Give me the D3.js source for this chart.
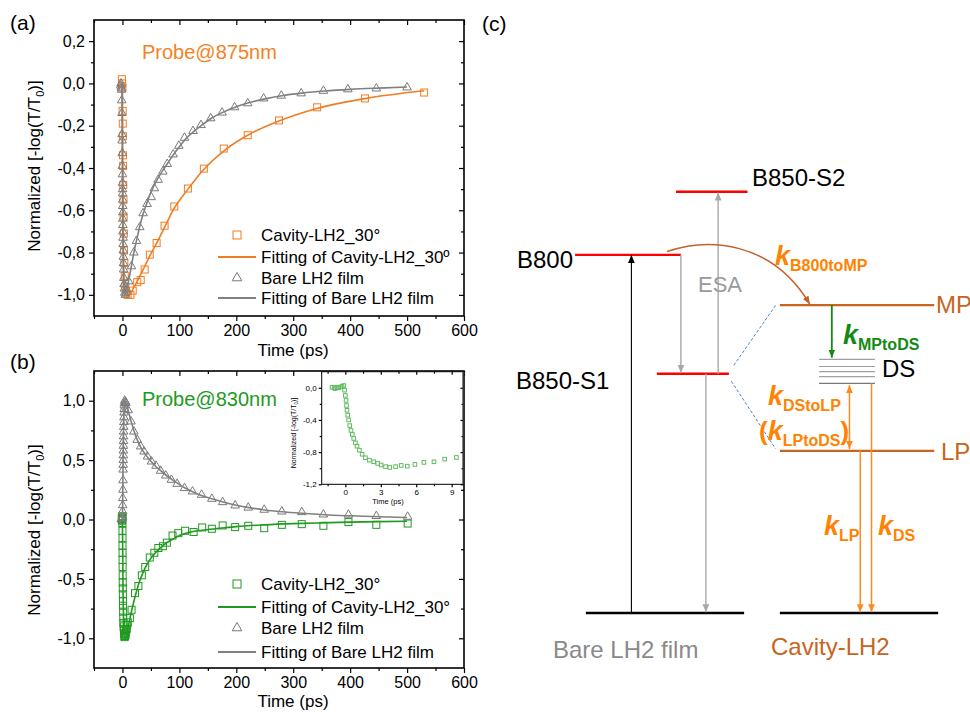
<!DOCTYPE html>
<html>
<head>
<meta charset="utf-8">
<script src="https://cdn.jsdelivr.net/npm/d3@7"></script>
<style>
  body { margin: 0; background: #fff; }
  svg { font-family: "Liberation Sans", Arial, Helvetica, sans-serif; }
</style>
</head>
<body>
<svg id="fig" width="970" height="712"></svg>
<script>
// ---------- data: [time (ps), normalized -log(T/T0)] ----------

// (a) probe @ 875 nm
const cavA = [
  [-1, 0.02], [-0.5, 0.0], [0, -0.02], [0.3, -0.13], [0.5, -0.19], [0.7, -0.25], [0.9, -0.34],
  [1.1, -0.39], [1.4, -0.48], [1.7, -0.55], [2, -0.63], [2.4, -0.71], [2.8, -0.79], [3.3, -0.85],
  [4, -0.91], [5, -0.96], [6, -0.99], [9, -1.0], [14, -1.0], [18, -0.98],
  [26, -0.94], [32, -0.93], [39, -0.88], [48, -0.81], [60, -0.755], [74, -0.673], [91, -0.582],
  [115, -0.497], [143, -0.403], [178, -0.308], [220, -0.245], [275, -0.175], [342, -0.113],
  [426, -0.071], [530, -0.043]
];
const cavAFit = [
  [-1, 0.0], [0, -0.01], [0.5, -0.3], [1.5, -0.7], [3, -0.93], [6, -1.0], [12, -1.0], [20, -0.965],
  [30, -0.915], [40, -0.86], [50, -0.805], [60, -0.755], [75, -0.675], [90, -0.595], [115, -0.5],
  [140, -0.415], [180, -0.315], [220, -0.245], [275, -0.178], [340, -0.12], [425, -0.072], [530, -0.035]
];
const bareA = [
  [-3, -0.01], [-2.5, 0.0], [-2, -0.02], [-1.5, -0.03], [-1.2, -0.08], [-1, -0.14], [-0.8, -0.24],
  [-0.6, -0.27], [-0.4, -0.33], [-0.2, -0.39], [0, -0.43], [0.1, -0.47], [0.2, -0.5], [0.3, -0.52],
  [0.4, -0.55], [0.5, -0.58], [0.6, -0.61], [0.7, -0.64], [0.8, -0.67], [0.9, -0.7], [1.0, -0.73],
  [1.2, -0.76], [1.4, -0.79], [1.6, -0.82], [1.8, -0.85], [2.0, -0.88], [2.4, -0.92], [2.8, -0.95],
  [3.3, -0.97], [4, -0.99], [5, -1.0],
  [7.6, -0.975], [11, -0.936], [15.8, -0.865], [20, -0.8], [24.6, -0.745], [30.4, -0.68],
  [36.3, -0.614], [43.3, -0.57], [50.4, -0.538], [56, -0.496], [62.7, -0.456], [70.9, -0.417],
  [78.6, -0.381], [89, -0.336], [99, -0.295], [109, -0.257], [124, -0.225], [138, -0.197],
  [155, -0.165], [175, -0.138], [197, -0.113], [220, -0.094], [248, -0.071], [279, -0.058],
  [314, -0.047], [353, -0.035], [396, -0.028], [446, -0.024], [500, -0.019]
];
const bareAFit = [
  [-1, 0.0], [0, -0.5], [1, -0.8], [2, -0.95], [4, -1.0], [7, -0.98], [11, -0.93], [16, -0.86],
  [20, -0.8], [25, -0.74], [30, -0.68], [36, -0.62], [43, -0.565], [50, -0.515], [60, -0.46],
  [70, -0.415], [80, -0.375], [90, -0.335], [100, -0.3], [110, -0.265], [125, -0.228], [140, -0.196],
  [155, -0.167], [175, -0.138], [200, -0.11], [220, -0.093], [250, -0.073], [280, -0.058],
  [315, -0.046], [355, -0.036], [400, -0.028], [450, -0.022], [500, -0.017]
];

// (b) probe @ 830 nm; early part also shown in the inset
const cavBEarly = [
  [-1.13, 0.007], [-0.95, 0.0], [-0.85, -0.01], [-0.7, 0.005], [-0.57, 0.0], [-0.4, 0.01],
  [-0.28, 0.016], [-0.14, 0.028], [-0.06, -0.03], [0, -0.095], [0.06, -0.157], [0.1, -0.22],
  [0.14, -0.28], [0.2, -0.34], [0.28, -0.4], [0.37, -0.47], [0.48, -0.53], [0.59, -0.58],
  [0.71, -0.63], [0.85, -0.685], [0.99, -0.726], [1.19, -0.776], [1.42, -0.826], [1.7, -0.87],
  [2.04, -0.9], [2.4, -0.92], [2.74, -0.94], [3.03, -0.96], [3.4, -0.98], [3.76, -0.99],
  [4.25, -0.98], [4.73, -0.965], [5.24, -0.974], [5.89, -0.953], [6.65, -0.928], [7.5, -0.92],
  [8.41, -0.887], [9.4, -0.866]
];
const cavBLate = [
  [13, -0.83], [16, -0.76], [22, -0.62], [28, -0.56], [34, -0.47], [40, -0.4], [48, -0.32],
  [56, -0.28], [63, -0.24], [71, -0.225], [78, -0.195], [88, -0.135], [98, -0.115], [110, -0.095],
  [125, -0.105], [140, -0.067], [157, -0.078], [176, -0.05], [198, -0.064], [221, -0.053],
  [249, -0.073], [280, -0.045], [315, -0.039], [353, -0.053], [397, -0.022], [446, -0.045], [501, -0.034]
];
const cavB = cavBEarly.concat(cavBLate);
const cavBFit = [
  [-1, 0.0], [0, -0.05], [1, -0.6], [2, -0.88], [3.5, -0.99], [5, -1.0], [8, -0.95], [12, -0.86],
  [16, -0.77], [20, -0.69], [25, -0.6], [30, -0.52], [35, -0.46], [40, -0.405], [48, -0.34],
  [56, -0.29], [65, -0.245], [75, -0.205], [85, -0.175], [100, -0.135], [120, -0.105], [140, -0.09],
  [170, -0.075], [200, -0.06], [250, -0.045], [300, -0.035], [350, -0.028], [400, -0.022],
  [450, -0.018], [500, -0.015]
];
const bareB = [
  [-2, 0.0], [-1, 0.01], [0, 0.02], [0.2, 0.07], [0.4, 0.12], [0.6, 0.18], [0.8, 0.25], [1.0, 0.33],
  [1.2, 0.42], [1.3, 0.46], [1.4, 0.5], [1.5, 0.54], [1.6, 0.58], [1.7, 0.62], [1.8, 0.66],
  [1.9, 0.7], [2.0, 0.74], [2.2, 0.78], [2.4, 0.82], [2.6, 0.86], [2.8, 0.9], [3.0, 0.93],
  [3.3, 0.96], [3.6, 0.98], [4, 1.0], [5, 0.99],
  [6, 0.98], [10, 0.92], [15, 0.825], [20, 0.74], [26, 0.67], [32, 0.615], [38, 0.572], [44, 0.53],
  [51, 0.488], [59, 0.452], [67, 0.41], [76, 0.37], [86, 0.334], [96, 0.3], [109, 0.264],
  [123, 0.236], [139, 0.208], [157, 0.174], [176, 0.146], [198, 0.118], [221, 0.1], [249, 0.082],
  [280, 0.067], [315, 0.062], [353, 0.042], [397, 0.04], [446, 0.029], [501, 0.023]
];
const bareBFit = [
  [-1, 0.0], [0, 0.02], [1, 0.45], [2, 0.8], [3, 0.95], [4.5, 1.0], [7, 0.97], [10, 0.92], [15, 0.83],
  [20, 0.75], [26, 0.67], [32, 0.61], [40, 0.55], [50, 0.49], [60, 0.44], [70, 0.4], [80, 0.36],
  [95, 0.31], [110, 0.265], [125, 0.23], [140, 0.2], [160, 0.17], [180, 0.143], [200, 0.12],
  [225, 0.098], [250, 0.08], [280, 0.065], [315, 0.052], [355, 0.04], [400, 0.031], [450, 0.023],
  [500, 0.017]
];

// ticks
const xTicks = [0, 100, 200, 300, 400, 500, 600];
const xMinor = [-50, 50, 150, 250, 350, 450, 550];
const yTicksA = [0.2, 0, -0.2, -0.4, -0.6, -0.8, -1.0];
const yMinorA = [0.1, -0.1, -0.3, -0.5, -0.7, -0.9];
const yTicksB = [1, 0.5, 0, -0.5, -1];
const yMinorB = [0.75, 0.25, -0.25, -0.75];
const xTicksIn = [0, 3, 6, 9];
const xMinorIn = [-1.5, 1.5, 4.5, 7.5];
const yTicksIn = [0, -0.4, -0.8, -1.2];
const yMinorIn = [-0.2, -0.6, -1.0];

// (c) energy diagram: relative energies (ground = 0, B850-S2 = 1)
const bareLevels = ['B850-S2', 'B800', 'B850-S1'];
const bareEnergy = [1.0, 0.85, 0.568];
const cavityLevels = ['MP', 'LP'];
const cavityEnergy = [0.731, 0.385];
const dsEnergy = [0.602, 0.585, 0.573, 0.561, 0.545];

// ---------- drawing ----------
const svg = d3.select('#fig');
const loc = d3.formatLocale({decimal: ',', thousands: '.', grouping: [3], currency: ['', ''], minus: '-'});
const fmt1 = loc.format('.1f');
const FONT = '"Liberation Sans", Arial, Helvetica, sans-serif';

const cOrange = '#f37b21';
const cGreen = '#1f9a1f';
const cGrey = '#7a7a7a';

function addAxis(g, gen, scale, tr, vals, size, fmt, fs, pad) {
  const a = gen(scale).tickValues(vals).tickSizeInner(size).tickSizeOuter(0).tickPadding(pad || 4)
    .tickFormat(fmt || (() => ''));
  const s = g.append('g').attr('transform', tr).call(a);
  s.attr('font-family', null).attr('font-size', fs || 16);
  s.select('.domain').remove();
  s.selectAll('line').attr('stroke', '#000').attr('stroke-width', 1.2);
  s.selectAll('text').attr('fill', '#000');
  return s;
}

function frameAxes(g, x, y, o) {
  const L = o.left, R = o.right, T = o.top, B = o.bottom;
  const fs = o.fs, big = o.big, small = o.small;
  addAxis(g, d3.axisBottom, x, `translate(0,${B})`, o.xt, big, o.xf, fs, o.pad);
  addAxis(g, d3.axisBottom, x, `translate(0,${B})`, o.xm, small);
  addAxis(g, d3.axisTop, x, `translate(0,${T})`, o.xt, -big);
  addAxis(g, d3.axisTop, x, `translate(0,${T})`, o.xm, -small);
  addAxis(g, d3.axisLeft, y, `translate(${L},0)`, o.yt, big, fmt1, fs, o.pad);
  addAxis(g, d3.axisLeft, y, `translate(${L},0)`, o.ym, small);
  addAxis(g, d3.axisRight, y, `translate(${R},0)`, o.yt, -big);
  addAxis(g, d3.axisRight, y, `translate(${R},0)`, o.ym, -small);
  g.append('rect').attr('x', L).attr('y', T).attr('width', R - L).attr('height', B - T)
    .attr('fill', 'none').attr('stroke', '#000').attr('stroke-width', o.frame);
}

function yLabel(g, cx, cy, fs) {
  const t = g.append('text').attr('transform', `translate(${cx},${cy}) rotate(-90)`)
    .attr('text-anchor', 'middle').attr('font-size', fs).attr('fill', '#000');
  t.append('tspan').text('Normalized [-log(T/T');
  t.append('tspan').attr('font-size', fs * 0.65).attr('dy', fs * 0.25).text('0');
  t.append('tspan').attr('dy', -fs * 0.25).text(')]');
}

function squares(g, data, x, y, s, color) {
  g.append('g').selectAll('rect').data(data).join('rect')
    .attr('x', d => x(d[0]) - s / 2).attr('y', d => y(d[1]) - s / 2)
    .attr('width', s).attr('height', s)
    .attr('fill', 'none').attr('stroke', color).attr('stroke-width', 1);
}
function triangles(g, data, x, y, color) {
  const sym = d3.symbol().type(d3.symbolTriangle).size(32);
  g.append('g').selectAll('path').data(data).join('path')
    .attr('d', sym).attr('transform', d => `translate(${x(d[0])},${y(d[1])})`)
    .attr('fill', 'none').attr('stroke', color).attr('stroke-width', 1);
}
function fitLine(g, data, x, y, color) {
  const line = d3.line().x(d => x(d[0])).y(d => y(d[1])).curve(d3.curveMonotoneX);
  g.append('path').datum(data).attr('d', line)
    .attr('fill', 'none').attr('stroke', color).attr('stroke-width', 1.6);
}

function legend(g, x0, rows, items) {
  const sym = d3.symbol().type(d3.symbolTriangle).size(40);
  items.forEach((it, i) => {
    const cy = rows[i];
    if (it.kind === 'sq') {
      g.append('rect').attr('x', x0 + 19 - 4).attr('y', cy - 4).attr('width', 8).attr('height', 8)
        .attr('fill', 'none').attr('stroke', it.color);
    } else if (it.kind === 'tri') {
      g.append('path').attr('d', sym).attr('transform', `translate(${x0 + 19},${cy})`)
        .attr('fill', 'none').attr('stroke', it.color);
    } else {
      g.append('line').attr('x1', x0).attr('x2', x0 + 38).attr('y1', cy).attr('y2', cy)
        .attr('stroke', it.color).attr('stroke-width', 1.8);
    }
    g.append('text').attr('x', x0 + 43).attr('y', cy + 6).attr('font-size', 17)
      .attr('fill', '#000').text(it.label);
  });
}

function panel(o) {
  const g = svg.append('g');
  const x = d3.scaleLinear().domain(o.xd).range([o.left, o.right]);
  const y = d3.scaleLinear().domain(o.yd).range([o.bottom, o.top]);
  frameAxes(g, x, y, {left: o.left, right: o.right, top: o.top, bottom: o.bottom,
    xt: xTicks, xm: xMinor, yt: o.yt, ym: o.ym, xf: d => d, fs: 16, big: 5, small: 3, pad: 4, frame: 1.6});
  const d = g.append('g');
  squares(d, o.cav, x, y, 7, o.cavColor);
  fitLine(d, o.cavFit, x, y, o.cavColor);
  triangles(d, o.bare, x, y, cGrey);
  fitLine(d, o.bareFit, x, y, '#808080');
  yLabel(g, 40, o.ylabY, 17);
  g.append('text').attr('x', 293).attr('y', o.xlabY).attr('text-anchor', 'middle')
    .attr('font-size', 17).attr('fill', '#000').text('Time (ps)');
  g.append('text').attr('x', 142).attr('y', o.probeY).attr('font-size', 20)
    .attr('fill', o.probeColor).text(o.probe);
  g.append('text').attr('x', 10).attr('y', o.tagY).attr('font-size', 21).attr('fill', '#000').text(o.tag);
  legend(g, 218, o.rows, [
    {kind: 'sq', color: o.cavColor, label: 'Cavity-LH2_30°'},
    {kind: 'line', color: o.cavColor, label: o.fitLabel},
    {kind: 'tri', color: cGrey, label: 'Bare LH2 film'},
    {kind: 'line', color: '#808080', label: 'Fitting of Bare LH2 film'}
  ]);
  return g;
}

panel({
  xd: [-50, 600], yd: [-1.1, 0.3], left: 94, right: 464, top: 20, bottom: 316,
  yt: yTicksA, ym: yMinorA, cav: cavA, cavFit: cavAFit, bare: bareA, bareFit: bareAFit,
  cavColor: cOrange, probeColor: '#f5821f', probe: 'Probe@875nm', probeY: 59, tag: '(a)', tagY: 30,
  ylabY: 166, xlabY: 356, rows: [235, 257, 278, 298], fitLabel: 'Fitting of Cavity-LH2_30º'
});

panel({
  xd: [-50, 600], yd: [-1.25, 1.25], left: 94, right: 464, top: 371, bottom: 668,
  yt: yTicksB, ym: yMinorB, cav: cavB, cavFit: cavBFit, bare: bareB, bareFit: bareBFit,
  cavColor: cGreen, probeColor: '#1e9a1e', probe: 'Probe@830nm', probeY: 406, tag: '(b)', tagY: 369,
  ylabY: 530, xlabY: 707, rows: [584, 607, 628, 652], fitLabel: 'Fitting of Cavity-LH2_30°'
});

// inset of (b)
(function inset() {
  const L = 321.7, R = 463.5, T = 371.7, B = 484.3;
  const g = svg.append('g');
  g.append('rect').attr('x', L).attr('y', T).attr('width', R - L).attr('height', B - T).attr('fill', '#fff');
  const x = d3.scaleLinear().domain([-2, 10]).range([L, R]);
  const y = d3.scaleLinear().domain([-1.2, 0.2]).range([B, T]);
  frameAxes(g, x, y, {left: L, right: R, top: T, bottom: B,
    xt: xTicksIn, xm: xMinorIn, yt: yTicksIn, ym: yMinorIn, xf: d => d, fs: 8, big: 3, small: 2, pad: 2, frame: 1});
  g.append('line').attr('x1', R).attr('x2', R).attr('y1', T).attr('y2', B)
    .attr('stroke', '#333').attr('stroke-width', 2.2);
  squares(g, cavBEarly, x, y, 3.6, '#62bb62');
  yLabel(g, 296, 433, 7);
  g.append('text').attr('x', 388).attr('y', 504).attr('text-anchor', 'middle')
    .attr('font-size', 7.5).attr('fill', '#000').text('Time (ps)');
})();

// ---------- (c) energy diagram ----------
(function diagram() {
  const g = svg.append('g');
  const ex = d3.scaleLinear().domain([0, 100]).range([480, 970]);
  const ey = d3.scaleLinear().domain([0, 1]).range([613, 191.7]);
  const defs = svg.append('defs');
  function marker(id, color) {
    defs.append('marker').attr('id', id).attr('viewBox', '0 0 10 10').attr('refX', 10).attr('refY', 5)
      .attr('markerWidth', 8).attr('markerHeight', 8).attr('markerUnits', 'userSpaceOnUse')
      .attr('orient', 'auto-start-reverse')
      .append('path').attr('d', 'M0,0.8 L10,5 L0,9.2 Z').attr('fill', color);
    return `url(#${id})`;
  }
  const mBlack = marker('mBlack', '#000');
  const mGrey = marker('mGrey', '#a8a8a8');
  const mGreen = marker('mGreen', '#138a13');
  const mOr = marker('mOr', '#ff8a1c');
  const mBrown = marker('mBrown', '#c4622a');

  const cBrown = '#c8641e', cK = '#ff8200';
  const E = (names, energies) => n => energies[names.indexOf(n)];
  const eb = E(bareLevels, bareEnergy), ec = E(cavityLevels, cavityEnergy);

  function hline(x0, x1, e, color, w) {
    g.append('line').attr('x1', ex(x0)).attr('x2', ex(x1)).attr('y1', ey(e)).attr('y2', ey(e))
      .attr('stroke', color).attr('stroke-width', w);
  }
  function arrow(xu, e0, e1, color, w, mEnd, mStart) {
    const l = g.append('line').attr('x1', ex(xu)).attr('x2', ex(xu)).attr('y1', ey(e0)).attr('y2', ey(e1))
      .attr('stroke', color).attr('stroke-width', w).attr('marker-end', mEnd);
    if (mStart) l.attr('marker-start', mStart);
  }
  function txt(x, y, s, size, color, anchor) {
    return g.append('text').attr('x', x).attr('y', y).attr('font-size', size).attr('fill', color)
      .attr('text-anchor', anchor || 'start').text(s);
  }
  function kLabel(x, y, sub, color, pre, post) {
    const t = g.append('text').attr('x', x).attr('y', y).attr('fill', color).attr('font-weight', 'bold');
    if (pre) t.append('tspan').attr('font-size', 26).text(pre);
    t.append('tspan').attr('font-size', 27).attr('font-style', 'italic').text('k');
    t.append('tspan').attr('font-size', 16).attr('dy', 6).text(sub);
    if (post) t.append('tspan').attr('font-size', 26).attr('dy', -6).text(post);
  }

  // dashed coupling lines
  g.append('line').attr('x1', ex(51.8)).attr('y1', ey(0.588)).attr('x2', ex(60.5)).attr('y2', ey(0.733))
    .attr('stroke', '#4d7fd1').attr('stroke-width', 1).attr('stroke-dasharray', '3,2');
  g.append('line').attr('x1', ex(51.3)).attr('y1', ey(0.55)).attr('x2', ex(60.3)).attr('y2', ey(0.39))
    .attr('stroke', '#4d7fd1').attr('stroke-width', 1).attr('stroke-dasharray', '3,2');

  // ground states
  hline(21.6, 53.9, 0, '#000', 2.6);
  hline(61.2, 93.5, 0, '#000', 2.6);
  // bare film levels
  hline(40, 54.6, eb('B850-S2'), '#ff0000', 2.4);
  hline(19.4, 41, eb('B800'), '#ff0000', 2.4);
  hline(36.1, 50.8, eb('B850-S1'), '#ff0000', 2.4);
  // polariton levels
  hline(61.2, 92.7, ec('MP'), cBrown, 2.2);
  hline(61.2, 92.7, ec('LP'), cBrown, 2.2);
  dsEnergy.forEach((e, i) => hline(69.2, 80.6, e, i === dsEnergy.length - 1 ? '#777' : '#a0a0a0', 1.1));

  // bare film transitions
  arrow(30.9, 0, eb('B800'), '#000', 1.1, mBlack);
  arrow(41, eb('B800'), eb('B850-S1') + 0.002, '#a8a8a8', 1.4, mGrey);
  arrow(48.6, eb('B850-S1'), eb('B850-S2') - 0.002, '#a8a8a8', 1.4, mGrey);
  arrow(46.1, eb('B850-S1'), 0.002, '#a8a8a8', 1.4, mGrey);
  // cavity transitions
  arrow(71.8, ec('MP'), dsEnergy[0] + 0.004, '#138a13', 1.8, mGreen);
  arrow(75.4, dsEnergy[dsEnergy.length - 1] - 0.004, ec('LP') + 0.004, '#ff8a1c', 1.5, mOr, mOr);
  arrow(77.6, ec('LP'), 0.002, '#ff8a1c', 1.5, mOr);
  arrow(79.9, dsEnergy[dsEnergy.length - 1], 0.002, '#ff8a1c', 1.5, mOr);
  // B800 -> MP curved transfer
  const p0 = [ex(38.2), ey(0.858)], p1 = [ex(67.3), ey(ec('MP') + 0.002)];
  g.append('path')
    .attr('d', `M${p0[0]},${p0[1]} C${p0[0] + 40},${p0[1] - 14} ${p1[0] - 38},${p1[1] - 64} ${p1[0]},${p1[1]}`)
    .attr('fill', 'none').attr('stroke', '#c4622a').attr('stroke-width', 1.5).attr('marker-end', mBrown);

  // level labels
  txt(752, 186, 'B850-S2', 24, '#000');
  txt(573, 268, 'B800', 24, '#000', 'end');
  txt(516, 389, 'B850-S1', 24, '#000');
  txt(698, 292, 'ESA', 22, '#9a9a9a');
  txt(936, 313, 'MP', 24, cBrown);
  txt(941, 460, 'LP', 24, cBrown);
  txt(882, 377, 'DS', 24, '#000');
  txt(553, 658, 'Bare LH2 film', 24, '#8a8a8a');
  txt(771, 655, 'Cavity-LH2', 24, cBrown);
  txt(482, 31, '(c)', 21, '#000');

  // rate labels
  kLabel(775, 265, 'B800toMP', cK);
  kLabel(843, 344, 'MPtoDS', '#138a13');
  kLabel(768, 405, 'DStoLP', cK);
  kLabel(759, 440, 'LPtoDS', cK, '(', ')');
  kLabel(824, 535, 'LP', cK);
  kLabel(878, 535, 'DS', cK);
})();
</script>
</body>
</html>
